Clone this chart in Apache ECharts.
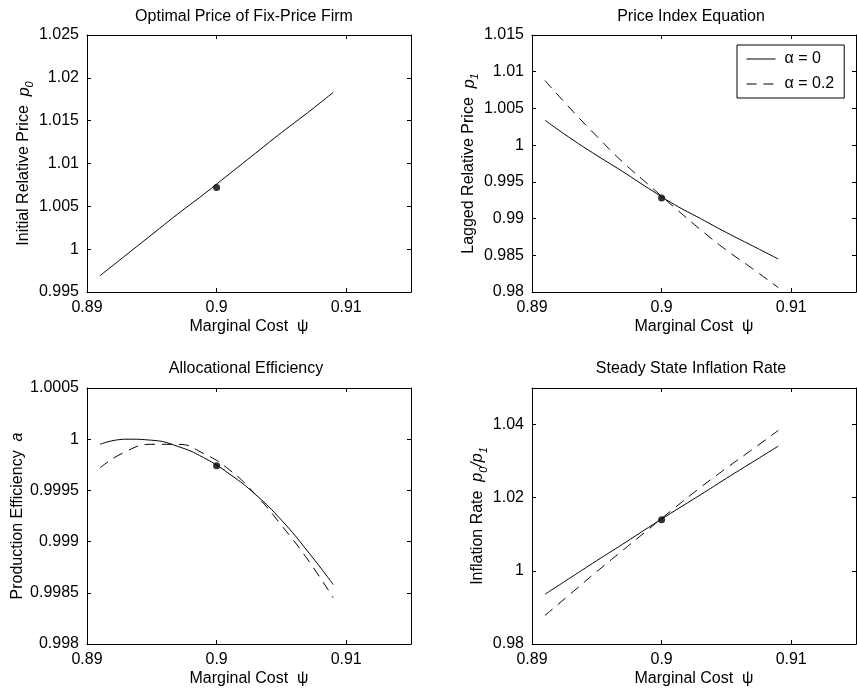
<!DOCTYPE html>
<html>
<head>
<meta charset="utf-8">
<script src="https://cdn.jsdelivr.net/npm/echarts@6/dist/echarts.min.js"></script>
<style>
html,body{margin:0;padding:0;background:#fff;}
#chart{width:857px;height:692px;}
</style>
</head>
<body>
<div id="chart"></div>
<script>
// ---- data ----
const xs = [0.891, 0.893, 0.895, 0.897, 0.899, 0.901, 0.903, 0.905, 0.907, 0.909];
const p0Vals = [0.9969, 0.9993, 1.0017, 1.0041, 1.0064, 1.0088, 1.0112, 1.0136, 1.0159, 1.0183];
const p1Alpha0 = [1.0034, 1.0009, 0.9986, 0.9964, 0.9941, 0.9919, 0.9900, 0.9881, 0.9863, 0.9845];
const p1Alpha02 = [1.0088, 1.0049, 1.0012, 0.9977, 0.9946, 0.9915, 0.9885, 0.9857, 0.9832, 0.9806];
const effAlpha0 = [0.99995, 1.00000, 0.99999, 0.99993, 0.99982, 0.99966, 0.99946, 0.99921, 0.99891, 0.99858];
const effAlpha02 = [0.99972, 0.99988, 0.99995, 0.99995, 0.99986, 0.99970, 0.99946, 0.99916, 0.99883, 0.99845];
const inflAlpha0 = [0.9936, 0.9982, 1.0028, 1.0073, 1.0119, 1.0164, 1.0208, 1.0253, 1.0297, 1.0341];
const inflAlpha02 = [0.9878, 0.9938, 0.9998, 1.0056, 1.0114, 1.0172, 1.0228, 1.0281, 1.0332, 1.0384];
const steadyX = 0.9;
const steadyP0 = 1.0072;
const steadyP1 = 0.9928;
const steadyEff = 0.99974;
const steadyInfl = 1.0140;

const titles = ['Optimal Price of Fix-Price Firm', 'Price Index Equation', 'Allocational Efficiency', 'Steady State Inflation Rate'];
const yNames = [
  '{n|Initial Relative Price  }{i|p}{s|0}',
  '{n|Lagged Relative Price  }{i|p}{s|1}',
  '{n|Production Efficiency  }{i|a}',
  '{n|Inflation Rate  }{i|p}{s|0}{i|/p}{s|1}'
];
const xName = 'Marginal Cost  \u03C8';
const seriesNames = ['\u03B1 = 0', '\u03B1 = 0.2'];
const xRange = [0.89, 0.915, 0.01];
const yRanges = [[0.995, 1.025, 0.005], [0.98, 1.015, 0.005], [0.998, 1.0005, 0.0005], [0.98, 1.05, 0.02]];

// ---- layout ----
const FONT = '"Liberation Sans", Arial, Helvetica, sans-serif';
const DASH = [10, 7];
const grids = [
  {left: 87, top: 35, width: 324, height: 257},
  {left: 532, top: 35, width: 324, height: 257},
  {left: 87, top: 388, width: 324, height: 256},
  {left: 532, top: 388, width: 324, height: 256}
];
const yNameGaps = [49, 48, 58, 40];
const titlePos = [[244, 9], [691, 9], [246, 361], [691, 361]];

const rich = {
  n: {fontSize: 16, fontFamily: FONT, color: '#000', lineHeight: 22},
  i: {fontSize: 16, fontFamily: FONT, fontStyle: 'italic', color: '#000', lineHeight: 22},
  s: {fontSize: 11, fontFamily: FONT, fontStyle: 'italic', color: '#000', lineHeight: 11, verticalAlign: 'bottom'}
};

const xAxes = [], yAxes = [], titleArr = [];
grids.forEach((g, gi) => {
  const yr = yRanges[gi];
  const common = {
    gridIndex: gi, type: 'value',
    axisLine: {show: true, onZero: false, lineStyle: {color: '#000', width: 1}},
    axisTick: {show: true, inside: true, length: 4, lineStyle: {color: '#000', width: 1}},
    splitLine: {show: false}
  };
  xAxes.push(Object.assign({}, common, {
    position: 'bottom', min: xRange[0], max: xRange[1], interval: xRange[2],
    axisLabel: {color: '#000', fontSize: 16, fontFamily: FONT, margin: 8, showMaxLabel: false},
    name: xName, nameLocation: 'middle', nameGap: 27,
    nameTextStyle: {color: '#000', fontSize: 16, fontFamily: FONT}
  }));
  xAxes.push(Object.assign({}, common, {
    position: 'top', min: xRange[0], max: xRange[1], interval: xRange[2],
    axisLabel: {show: false}
  }));
  yAxes.push(Object.assign({}, common, {
    position: 'left', min: yr[0], max: yr[1], interval: yr[2],
    axisLabel: {color: '#000', fontSize: 16, fontFamily: FONT, margin: 8, showMaxLabel: gi !== 3},
    name: yNames[gi], nameLocation: 'middle', nameGap: yNameGaps[gi],
    nameTextStyle: {color: '#000', fontSize: 16, fontFamily: FONT, rich: rich}
  }));
  yAxes.push(Object.assign({}, common, {
    position: 'right', min: yr[0], max: yr[1], interval: yr[2],
    axisLabel: {show: false}
  }));
  titleArr.push({
    text: titles[gi], left: titlePos[gi][0], top: titlePos[gi][1], textAlign: 'center', padding: 0,
    textStyle: {color: '#000', fontSize: 16, fontWeight: 'normal', fontFamily: FONT}
  });
});

function pairs(arr) { return xs.map((x, i) => [x, arr[i]]); }
function lineSeries(gi, name, arr, dashed) {
  return {
    type: 'line', name: name, xAxisIndex: gi * 2, yAxisIndex: gi * 2,
    data: pairs(arr), smooth: true, symbol: 'none', showSymbol: false,
    lineStyle: {color: '#000', width: 1, type: dashed ? DASH : 'solid'},
    itemStyle: {color: '#000'}, silent: true
  };
}
function dot(gi, y) {
  return {
    type: 'scatter', xAxisIndex: gi * 2, yAxisIndex: gi * 2,
    data: [[steadyX, y]], symbol: 'circle', symbolSize: 7,
    itemStyle: {color: '#000'}, silent: true, z: 5
  };
}

const series = [
  lineSeries(0, seriesNames[0], p0Vals, false), dot(0, steadyP0),
  lineSeries(1, seriesNames[0], p1Alpha0, false), lineSeries(1, seriesNames[1], p1Alpha02, true), dot(1, steadyP1),
  lineSeries(2, seriesNames[0], effAlpha0, false), lineSeries(2, seriesNames[1], effAlpha02, true), dot(2, steadyEff),
  lineSeries(3, seriesNames[0], inflAlpha0, false), lineSeries(3, seriesNames[1], inflAlpha02, true), dot(3, steadyInfl)
];

const chart = echarts.init(document.getElementById('chart'), null, {renderer: 'canvas'});
chart.setOption({
  animation: false,
  backgroundColor: '#fff',
  title: titleArr,
  grid: grids,
  xAxis: xAxes,
  yAxis: yAxes,
  legend: {
    data: [
      {name: seriesNames[0], lineStyle: {type: 'solid', width: 1, color: '#000'}},
      {name: seriesNames[1], lineStyle: {type: DASH, width: 1, color: '#000'}}
    ],
    orient: 'vertical', left: 737, top: 45,
    padding: [6, 10, 6, 9], itemWidth: 29, itemHeight: 14, itemGap: 9,
    borderColor: '#000', borderWidth: 1, backgroundColor: '#fff',
    itemStyle: {opacity: 0, color: 'rgba(0,0,0,0)', borderWidth: 0},
    lineStyle: {width: 1, color: '#000'},
    textStyle: {color: '#000', fontSize: 16, fontFamily: FONT, padding: [0, 0, 0, 4]},
    selectedMode: false
  },
  series: series
});
</script>
</body>
</html>
